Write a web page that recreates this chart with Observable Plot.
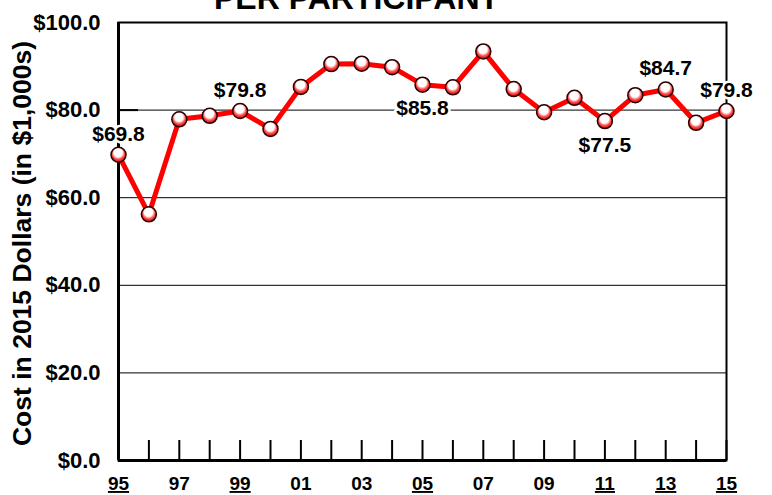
<!DOCTYPE html>
<html>
<head>
<meta charset="utf-8">
<script src="https://cdn.jsdelivr.net/npm/d3@7"></script>
<script src="https://cdn.jsdelivr.net/npm/@observablehq/plot@0.6"></script>
<style>
  html, body { margin: 0; padding: 0; background: #fff; }
  #chart { width: 772px; height: 495px; overflow: hidden; }
</style>
</head>
<body>
<div id="chart"></div>
<script>
const titleText = "PER PARTICIPANT";
const yAxisLabel = "Cost in 2015 Dollars (in $1,000s)";
const years = [1995,1996,1997,1998,1999,2000,2001,2002,2003,2004,2005,2006,2007,2008,2009,2010,2011,2012,2013,2014,2015];
const costs = [69.8,56.2,77.9,78.7,79.8,75.7,85.3,90.5,90.6,89.8,85.8,85.2,93.4,84.8,79.5,82.8,77.5,83.4,84.7,77.1,79.8];
const xTickLabelYears = [1995,1997,1999,2001,2003,2005,2007,2009,2011,2013,2015];
const underlinedYears = [1995,1999,2005,2011,2013,2015];
const yTicks = [0,20,40,60,80,100];
const gridValues = [20,40,60,80];
const labelYears = [1995,1999,2005,2011,2013,2015];
const labelTexts = ["$69.8","$79.8","$85.8","$77.5","$84.7","$79.8"];
const labelSides = ["above","above","below","below","above","above"];

const data = years.map((year, i) => ({year, cost: costs[i]}));
const labels = labelYears.map((year, i) => ({
  year, cost: costs[years.indexOf(year)], text: labelTexts[i], side: labelSides[i]
}));
const fmtYear = d => String(d).slice(2);
const font = "'Liberation Sans', Arial, Helvetica, sans-serif";

const chart = Plot.plot({
  width: 772,
  height: 495,
  marginLeft: 118,
  marginRight: 46,
  marginTop: 22,
  marginBottom: 35,
  style: {fontFamily: font, fontWeight: "bold", color: "black", background: "white", overflow: "visible"},
  x: {domain: [1995, 2015], label: null},
  y: {domain: [0, 100], label: null},
  marks: [
    Plot.ruleY(gridValues, {stroke: "black", strokeWidth: 1}),
    Plot.frame({stroke: "black", strokeWidth: 2}),
    Plot.axisX({ticks: years, tickSize: -20, tickFormat: () => "", strokeWidth: 2, label: null}),
    Plot.axisX({ticks: xTickLabelYears, tickSize: 0, tickPadding: 16, tickFormat: fmtYear, fontSize: 19, fontWeight: "bold", label: null}),
    Plot.axisY({ticks: [80], tickSize: -20, tickFormat: () => "", strokeWidth: 2, label: null}),
    Plot.axisY({ticks: yTicks, tickSize: 0, tickPadding: 18, tickFormat: d => "$" + d.toFixed(1), fontSize: 22, fontWeight: "bold", label: null}),
    Plot.ruleX([1995], {stroke: "black", strokeWidth: 3}),
    Plot.ruleY([0], {stroke: "black", strokeWidth: 3}),
    Plot.line(data, {x: "year", y: "cost", stroke: "#ff0000", strokeWidth: 5, strokeLinejoin: "round"}),
    Plot.dot(data, {x: "year", y: "cost", r: 7.5, fill: "url(#ball)", stroke: "#2a0000", strokeWidth: 1.5}),
    Plot.text(labels.filter(d => d.side === "above"), {x: "year", y: "cost", text: "text", dy: -21, fontSize: 21, fontWeight: "bold", fill: "black", stroke: "white", strokeWidth: 5, paintOrder: "stroke"}),
    Plot.text(labels.filter(d => d.side === "below"), {x: "year", y: "cost", text: "text", dy: 24, fontSize: 21, fontWeight: "bold", fill: "black", stroke: "white", strokeWidth: 5, paintOrder: "stroke"}),
    Plot.text([yAxisLabel], {frameAnchor: "left", textAnchor: "middle", lineAnchor: "middle", dx: -96, dy: 2, rotate: -90, fontSize: 26.5, fontWeight: "bold", fill: "black"}),
    Plot.text([titleText], {frameAnchor: "top", textAnchor: "middle", dx: -66, dy: -14, lineAnchor: "bottom", fontSize: 32, fontWeight: "bold", fill: "black"})
  ]
});

// gradient for glossy markers
const svg = d3.select(chart);
const defs = svg.insert("defs", ":first-child");
const grad = defs.append("radialGradient").attr("id", "ball")
  .attr("cx", "50%").attr("cy", "42%").attr("r", "58%").attr("fx", "45%").attr("fy", "30%");
grad.append("stop").attr("offset", "0%").attr("stop-color", "#ffffff");
grad.append("stop").attr("offset", "48%").attr("stop-color", "#ffffff");
grad.append("stop").attr("offset", "72%").attr("stop-color", "#ff4a4a");
grad.append("stop").attr("offset", "100%").attr("stop-color", "#e00000");

// underline selected x tick labels
const underlined = new Set(underlinedYears.map(fmtYear));
svg.selectAll('g[aria-label="x-axis tick label"] text').each(function() {
  if (underlined.has(this.textContent.trim())) d3.select(this).style("text-decoration", "underline");
});

document.getElementById("chart").appendChild(chart);
</script>
</body>
</html>
